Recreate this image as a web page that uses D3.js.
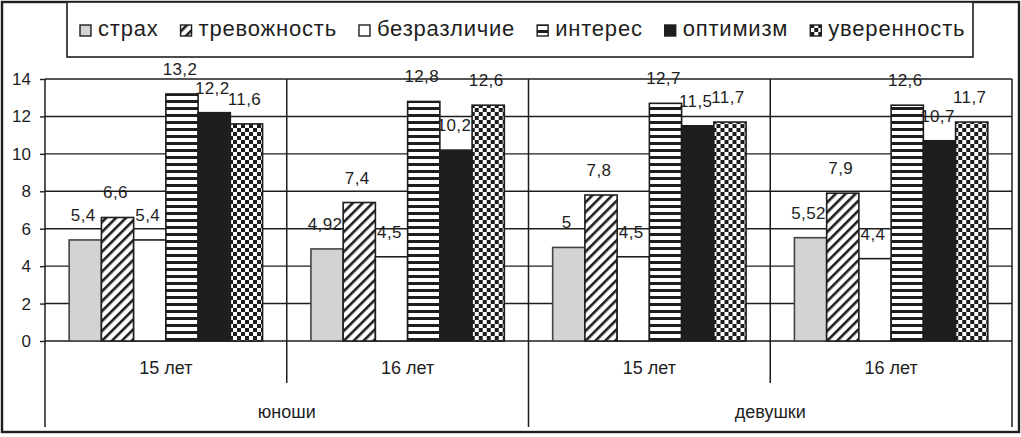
<!DOCTYPE html>
<html lang="ru">
<head>
    <meta charset="utf-8">
    <title>Эмоции подростков</title>
    <style type="text/css">
        body { margin: 0; background: #fff; }
        svg { display: block; font-family: "Liberation Sans", Arial, sans-serif; }
    </style>
</head>
<body>
   <svg class="chart" width="1021" height="437"></svg>

   <script src="https://d3js.org/d3.v7.min.js"></script>
   <script>
        // данные
        var genders = ['юноши', 'девушки'];
        var ages = ['15 лет', '16 лет'];
        var series = ['страх', 'тревожность', 'безразличие', 'интерес', 'оптимизм', 'уверенность'];

        var boys15  = [5.4, 6.6, 5.4, 13.2, 12.2, 11.6];
        var boys16  = [4.92, 7.4, 4.5, 12.8, 10.2, 12.6];
        var girls15 = [5, 7.8, 4.5, 12.7, 11.5, 11.7];
        var girls16 = [5.52, 7.9, 4.4, 12.6, 10.7, 11.7];

        var yTicks = [0, 2, 4, 6, 8, 10, 12, 14];

        // группы: пол x возраст
        var rows = [boys15, boys16, girls15, girls16];
        var groups = [];
        genders.forEach(function(g, gi) {
            ages.forEach(function(a, ai) {
                groups.push({ gender: g, age: a, key: g + '|' + a, values: rows[gi * ages.length + ai] });
            });
        });

        var svg = d3.select('.chart'),
            width = +svg.attr('width'),
            height = +svg.attr('height');

        var ink = '#1e1e1e';
        var plot = { left: 45, right: 1012, top: 79, bottom: 341 };

        // узоры заливки
        var defs = svg.append('defs');

        var pDiag = defs.append('pattern')
            .attr('id', 'p-diag').attr('patternUnits', 'userSpaceOnUse')
            .attr('width', 7).attr('height', 7)
            .attr('patternTransform', 'rotate(45)');
        pDiag.append('rect').attr('width', 7).attr('height', 7).attr('fill', '#fff');
        pDiag.append('rect').attr('width', 2.6).attr('height', 7).attr('fill', ink);

        var pHor = defs.append('pattern')
            .attr('id', 'p-hor').attr('patternUnits', 'userSpaceOnUse')
            .attr('width', 7).attr('height', 7);
        pHor.append('rect').attr('width', 7).attr('height', 7).attr('fill', '#fff');
        pHor.append('rect').attr('y', 2).attr('width', 7).attr('height', 3).attr('fill', ink);

        var pChk = defs.append('pattern')
            .attr('id', 'p-chk').attr('patternUnits', 'userSpaceOnUse')
            .attr('width', 8).attr('height', 8);
        pChk.append('rect').attr('width', 8).attr('height', 8).attr('fill', '#fff');
        pChk.append('rect').attr('x', 0).attr('y', 0).attr('width', 4).attr('height', 4).attr('fill', ink);
        pChk.append('rect').attr('x', 4).attr('y', 4).attr('width', 4).attr('height', 4).attr('fill', ink);

        var fills = ['#d3d3d3', 'url(#p-diag)', '#fff', 'url(#p-hor)', ink, 'url(#p-chk)'];
        var fill = d3.scaleOrdinal().domain(series).range(fills);

        // шкалы
        var x0 = d3.scaleBand()
            .domain(groups.map(function(d) { return d.key; }))
            .range([plot.left, plot.right])
            .padding(0);

        var x1 = d3.scaleBand()
            .domain(series)
            .range([0, x0.bandwidth()])
            .paddingInner(0)
            .paddingOuter(0.75);

        var y = d3.scaleLinear()
            .domain([0, 14])
            .range([plot.bottom, plot.top]);

        // внешняя рамка
        svg.append('rect')
            .attr('x', 2).attr('y', 2)
            .attr('width', width - 4).attr('height', 430)
            .attr('fill', 'none').attr('stroke', ink).attr('stroke-width', 2.4);

        // сетка
        svg.append('g')
            .selectAll('line')
            .data(yTicks)
            .enter().append('line')
            .attr('x1', plot.left).attr('x2', plot.right)
            .attr('y1', function(d) { return y(d); })
            .attr('y2', function(d) { return y(d); })
            .attr('stroke', ink).attr('stroke-width', 1.4);

        // ось Y
        var yAxis = svg.append('g')
            .attr('transform', 'translate(' + plot.left + ',0)')
            .call(d3.axisLeft(y).tickValues(yTicks).tickSize(5).tickPadding(9));
        yAxis.select('.domain').remove();
        yAxis.selectAll('line').attr('stroke', ink).attr('stroke-width', 1.4);
        yAxis.selectAll('text')
            .attr('font-family', '"Liberation Sans", Arial, sans-serif')
            .attr('font-size', 17).attr('fill', ink);

        // вертикальные линии
        var innerSep = [], outerSep = [plot.left];
        groups.forEach(function(g, i) {
            var right = x0(g.key) + x0.bandwidth();
            if ((i + 1) % ages.length === 0) outerSep.push(right); else innerSep.push(right);
        });

        svg.append('g').selectAll('line')
            .data(outerSep)
            .enter().append('line')
            .attr('x1', function(d) { return d; }).attr('x2', function(d) { return d; })
            .attr('y1', plot.top).attr('y2', 427)
            .attr('stroke', ink).attr('stroke-width', 1.5);

        svg.append('g').selectAll('line')
            .data(innerSep)
            .enter().append('line')
            .attr('x1', function(d) { return d; }).attr('x2', function(d) { return d; })
            .attr('y1', plot.top).attr('y2', 383)
            .attr('stroke', ink).attr('stroke-width', 1.5);

        // столбцы
        var gGroup = svg.append('g')
            .selectAll('g')
            .data(groups)
            .enter().append('g')
            .attr('transform', function(d) { return 'translate(' + x0(d.key) + ',0)'; });

        var cells = function(d) {
            return d.values.map(function(v, i) { return { key: series[i], value: v }; });
        };

        gGroup.selectAll('rect')
            .data(cells)
            .enter().append('rect')
            .attr('x', function(d) { return x1(d.key); })
            .attr('y', function(d) { return y(d.value); })
            .attr('width', x1.bandwidth())
            .attr('height', function(d) { return y(0) - y(d.value); })
            .attr('fill', function(d) { return fill(d.key); })
            .attr('stroke', function(d) { return d.key === 'страх' ? '#444' : ink; })
            .attr('stroke-width', 1.6);

        // подписи значений
        gGroup.selectAll('text')
            .data(cells)
            .enter().append('text')
            .attr('x', function(d) { return x1(d.key) + x1.bandwidth() / 2 - 2; })
            .attr('y', function(d) { return y(d.value) - 19; })
            .attr('text-anchor', 'middle')
            .attr('font-size', 17)
            .attr('letter-spacing', 0.4)
            .attr('fill', ink)
            .text(function(d) { return String(d.value).replace('.', ','); });

        // подписи категорий
        svg.append('g').selectAll('text')
            .data(groups)
            .enter().append('text')
            .attr('x', function(d) { return x0(d.key) + x0.bandwidth() / 2; })
            .attr('y', 374)
            .attr('text-anchor', 'middle')
            .attr('font-size', 18)
            .attr('fill', ink)
            .text(function(d) { return d.age; });

        svg.append('g').selectAll('text')
            .data(genders)
            .enter().append('text')
            .attr('x', function(d) {
                var first = x0(d + '|' + ages[0]);
                return first + x0.bandwidth() * ages.length / 2;
            })
            .attr('y', 418)
            .attr('text-anchor', 'middle')
            .attr('font-size', 18)
            .attr('fill', ink)
            .text(function(d) { return d; });

        // легенда
        var legend = svg.append('g');
        legend.append('rect')
            .attr('x', 67).attr('y', 2)
            .attr('width', 906).attr('height', 55)
            .attr('fill', '#fff').attr('stroke', ink).attr('stroke-width', 1.6);

        var lx = 80;
        series.forEach(function(s) {
            var item = legend.append('g').attr('transform', 'translate(' + lx + ',0)');
            item.append('rect')
                .attr('x', 0).attr('y', 25)
                .attr('width', 11).attr('height', 11)
                .attr('fill', fill(s)).attr('stroke', ink).attr('stroke-width', 1.4);
            var t = item.append('text')
                .attr('x', 18).attr('y', 36)
                .attr('font-size', 22)
                .attr('letter-spacing', 0.8)
                .attr('fill', ink)
                .text(s);
            lx += 18 + t.node().getComputedTextLength() + 22;
        });
   </script>
</body>
</html>
